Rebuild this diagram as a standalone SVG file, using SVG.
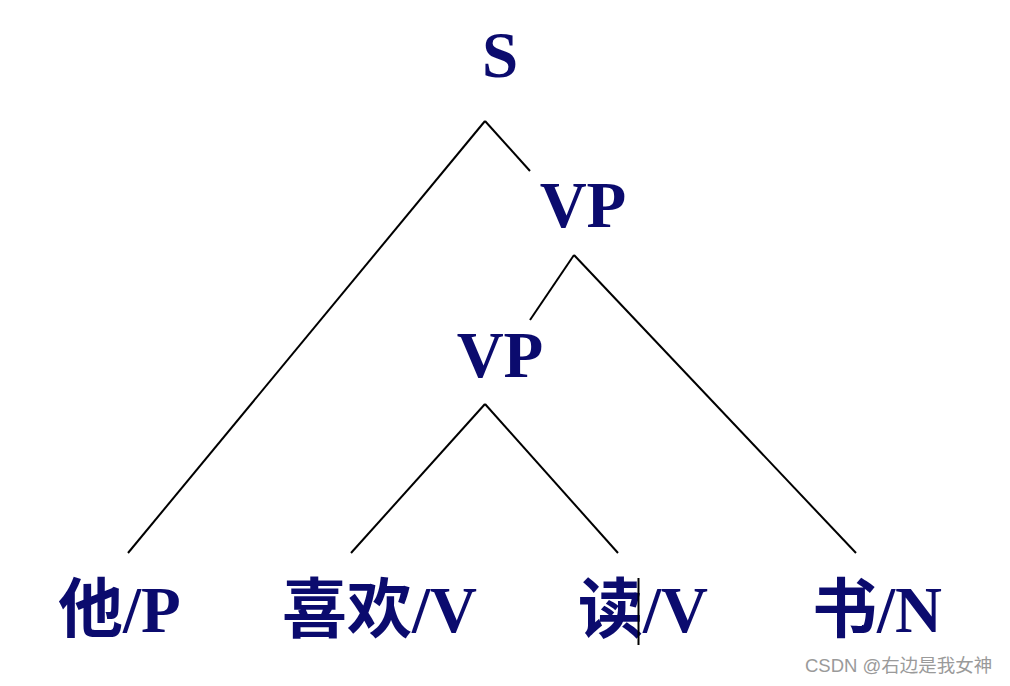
<svg xmlns="http://www.w3.org/2000/svg" width="1010" height="686" viewBox="0 0 1010 686">
<style>
.lbl{font-family:"Liberation Serif","Noto Sans CJK SC",serif;font-weight:bold;font-size:65px;fill:#0b0b6e}
.e{stroke:#000;stroke-width:2;fill:none}
.wm{font-family:"Liberation Sans","Noto Sans CJK SC",sans-serif;font-size:18.5px;fill:#9a9a9a}
</style>
<rect width="1010" height="686" fill="#fff"/>
<g id="connectors">
<line class="e" x1="485" y1="121" x2="128" y2="553"/>
<line class="e" x1="485" y1="121" x2="530" y2="171"/>
<line class="e" x1="574" y1="255" x2="530" y2="320"/>
<line class="e" x1="574" y1="255" x2="856" y2="553"/>
<line class="e" x1="485" y1="404" x2="351" y2="553"/>
<line class="e" x1="485" y1="404" x2="618" y2="553"/>
</g>
<g id="S"><text class="lbl" x="500" y="77" text-anchor="middle">S</text></g>
<g id="VP1"><text class="lbl" x="583" y="227" text-anchor="middle">VP</text></g>
<g id="VP2"><text class="lbl" x="500" y="377" text-anchor="middle">VP</text></g>
<g id="ta"><text class="lbl" x="58" y="632">他/P</text></g>
<g id="xihuan"><text class="lbl" x="282" y="632">喜欢/V</text></g>
<g id="du"><text class="lbl" x="578" y="632">读/V</text><line x1="638.5" y1="578" x2="638.5" y2="645" stroke="#000" stroke-width="2"/></g>
<g id="shu"><text class="lbl" x="812" y="632">书/N</text></g>
<text class="wm" x="805" y="672">CSDN @右边是我女神</text>
</svg>
